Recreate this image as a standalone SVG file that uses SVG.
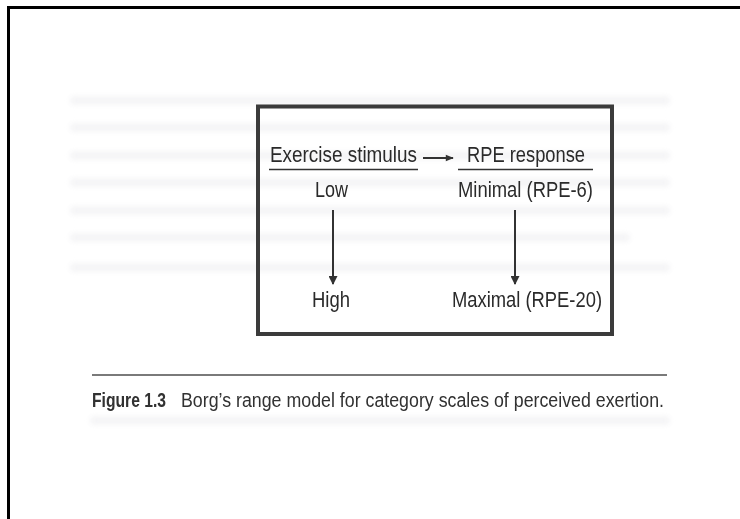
<svg xmlns="http://www.w3.org/2000/svg" width="740" height="519" viewBox="0 0 740 519">
  <defs>
    <style>
      .lbl { font-family: "Liberation Sans", Arial, sans-serif; font-size: 22px; fill: #2a2a2a; }
      .cap { font-family: "Liberation Sans", Arial, sans-serif; font-size: 20px; fill: #303030; }
      .wire { stroke: #333; stroke-width: 2; fill: none; }
      .rule { stroke: #333; stroke-width: 1.6; }
      .ghost { fill: #f1f1f3; }
    </style>
    <marker id="head" viewBox="0 0 10 10" refX="9" refY="5" markerWidth="6" markerHeight="4.5" orient="auto" markerUnits="strokeWidth">
      <path d="M0,0 L10,5 L0,10 z" fill="#333"/>
    </marker>
    <marker id="headSmall" viewBox="0 0 10 10" refX="9" refY="5" markerWidth="4.5" markerHeight="4" orient="auto" markerUnits="strokeWidth">
      <path d="M0,1 L10,5 L0,9 z" fill="#333"/>
    </marker>
    <filter id="soft" x="-10%" y="-50%" width="120%" height="200%">
      <feGaussianBlur stdDeviation="2.5"/>
    </filter>
    <filter id="scan" x="-5%" y="-5%" width="110%" height="110%">
      <feGaussianBlur stdDeviation="0.45"/>
    </filter>
  </defs>

  <rect width="740" height="519" fill="#ffffff"/>

  <!-- page frame -->
  <path d="M8.5,519 V7.5 H740" fill="none" stroke="#000" stroke-width="3"/>

  <!-- faint show-through of the facing page -->
  <g id="show-through" filter="url(#soft)" opacity="0.7">
    <rect class="ghost" x="70" y="96" width="600" height="9" rx="4"/>
    <rect class="ghost" x="70" y="123" width="600" height="9" rx="4"/>
    <rect class="ghost" x="70" y="151" width="600" height="9" rx="4"/>
    <rect class="ghost" x="70" y="178" width="600" height="9" rx="4"/>
    <rect class="ghost" x="70" y="206" width="600" height="9" rx="4"/>
    <rect class="ghost" x="70" y="233" width="560" height="9" rx="4"/>
    <rect class="ghost" x="70" y="263" width="600" height="9" rx="4"/>
    <rect class="ghost" x="90" y="416" width="580" height="9" rx="4"/>
  </g>

  <g filter="url(#scan)">
    <!-- figure box -->
    <g id="frame">
      <rect x="258" y="106.5" width="354" height="227.5" fill="none" stroke="#3a3a3a" stroke-width="4"/>
    </g>

    <g id="connectors">
      <line class="wire" x1="423" y1="158" x2="453" y2="158" stroke-width="1.6" marker-end="url(#headSmall)"/>
      <line class="wire" x1="333" y1="210" x2="333" y2="284" marker-end="url(#head)"/>
      <line class="wire" x1="515" y1="210" x2="515" y2="284" marker-end="url(#head)"/>
    </g>

    <g id="exercise-stimulus">
      <text class="lbl" x="270" y="162" textLength="147" lengthAdjust="spacingAndGlyphs">Exercise stimulus</text>
      <line class="rule" x1="269" y1="169.5" x2="418" y2="169.5"/>
    </g>

    <g id="rpe-response">
      <text class="lbl" x="467" y="162" textLength="118" lengthAdjust="spacingAndGlyphs">RPE response</text>
      <line class="rule" x1="458" y1="169.5" x2="593" y2="169.5"/>
    </g>

    <g id="low">
      <text class="lbl" x="315" y="197" textLength="33" lengthAdjust="spacingAndGlyphs">Low</text>
    </g>

    <g id="minimal">
      <text class="lbl" x="458" y="197" textLength="135" lengthAdjust="spacingAndGlyphs">Minimal (RPE-6)</text>
    </g>

    <g id="high">
      <text class="lbl" x="312" y="307" textLength="38" lengthAdjust="spacingAndGlyphs">High</text>
    </g>

    <g id="maximal">
      <text class="lbl" x="452" y="307" textLength="150" lengthAdjust="spacingAndGlyphs">Maximal (RPE-20)</text>
    </g>

    <!-- caption -->
    <g id="caption">
      <line x1="92" y1="375" x2="667" y2="375" stroke="#7a7a7a" stroke-width="2"/>
      <text class="cap" x="92" y="407" font-weight="bold" textLength="74" lengthAdjust="spacingAndGlyphs">Figure 1.3</text>
      <text class="cap" x="181" y="407" textLength="483" lengthAdjust="spacingAndGlyphs">Borg’s range model for category scales of perceived exertion.</text>
    </g>
  </g>
</svg>
